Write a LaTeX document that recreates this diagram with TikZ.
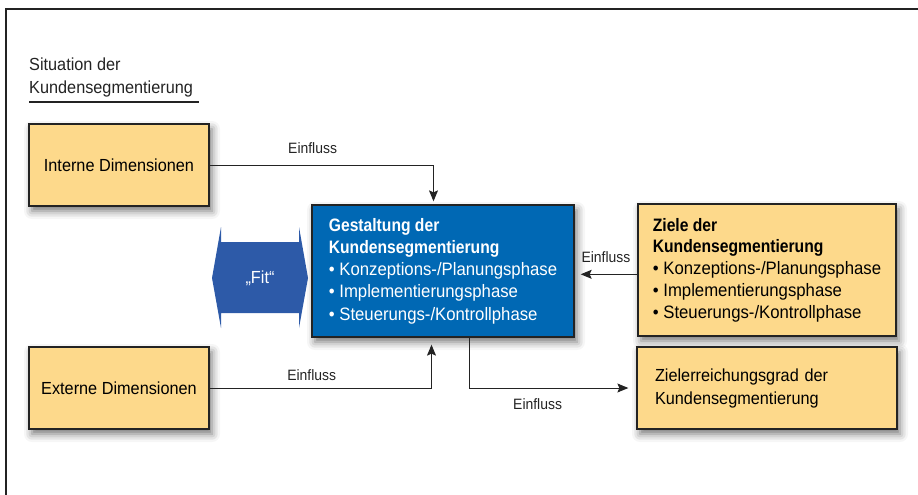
\documentclass[tikz,border=0pt]{standalone}
\usepackage{fontspec}
\setmainfont{Liberation Sans}[FakeStretch=0.93,BoldFeatures={FakeStretch=0.87}]
\usetikzlibrary{arrows.meta,shadows.blur}

\definecolor{boxyellow}{RGB}{253,217,139}
\definecolor{boxblue}{RGB}{0,104,180}
\definecolor{fitblue}{RGB}{45,90,168}
\definecolor{linegray}{RGB}{35,35,35}

\tikzset{
  boxshadow/.style={blur shadow={shadow xshift=3pt, shadow yshift=-5pt, shadow blur radius=8pt, shadow opacity=55}},
  dimbox/.style={draw=linegray, line width=1.3pt, fill=boxyellow, boxshadow,
    minimum width=180pt, minimum height=82pt, inner sep=0pt,
    font=\fontsize{17.5}{23}\selectfont},
  bluebox/.style={dimbox, fill=boxblue, text=white, align=left,
    minimum width=262pt, minimum height=132pt, font=\fontsize{18}{22.3}\selectfont},
  goalbox/.style={dimbox, align=left, minimum width=258pt, minimum height=132pt,
    font=\fontsize{18}{21.7}\selectfont},
  flow/.style={draw=linegray, line width=1pt, -{Stealth[length=11pt, width=9pt, inset=2pt]}},
  lbl/.style={inner sep=0pt, text=linegray, font=\fontsize{15}{18}\selectfont}
}

\begin{document}
\begin{tikzpicture}[x=1pt, y=-1pt]
    \useasboundingbox (0,0) rectangle (918,495);

    % Frame
    \draw[linegray, line width=1.5pt] (6,495) -- (6,9) -- (918,9);

    % Title
    \node[anchor=south west, inner sep=0pt, align=left, text=linegray,
          font=\fontsize{17.5}{23}\selectfont] (title) at (29,97)
          {Situation der\\Kundensegmentierung};
    \draw[linegray, line width=1.2pt] ([yshift=-5pt]title.south west) -- ([xshift=6pt,yshift=-5pt]title.south east);

    % Dimensions
    \node[dimbox] (intern) at (119,165) {Interne Dimensionen};
    \node[dimbox] (extern) at (119,388) {Externe Dimensionen};

    % Fit arrow
    \fill[fitblue] (212,278) -- (221,227) -- (221,242) -- (299,242) -- (299,227) -- (308,278)
        -- (299,328) -- (299,313) -- (221,313) -- (221,328) -- cycle;
    \node[text=white, font=\fontsize{17.5}{20}\selectfont] (fit) at (260,278) {„Fit“};

    % Gestaltung
    \node[bluebox] (gestalt) at (443,271)
      {\textbf{Gestaltung der}\\\textbf{Kundensegmentierung}\\• Konzeptions-/Planungsphase\\• Implementierungsphase\\• Steuerungs-/Kontrollphase};

    % Ziele
    \node[goalbox] (ziele) at (767,270)
      {\textbf{Ziele der}\\\textbf{Kundensegmentierung}\\• Konzeptions-/Planungsphase\\• Implementierungsphase\\• Steuerungs-/Kontrollphase};
    \node[dimbox, minimum width=260pt, text width=224pt, align=left] (zielgrad) at (767,388)
      {Zielerreichungsgrad der\\Kundensegmentierung};

    % Einfluss
    \draw[flow, shorten >=3pt] (intern.east) -| node[lbl, above=10.6pt, pos=0.23] {Einfluss} ([xshift=-9.5pt]gestalt.north);
    \draw[flow, shorten >=7pt] (extern.east) -| node[lbl, above=6.7pt, pos=0.23] {Einfluss} ([xshift=-11.5pt]gestalt.south);
    \draw[flow, shorten >=6pt] ([yshift=-4.3pt]ziele.west) -- node[lbl, above=11.6pt] {Einfluss} ([yshift=-4.3pt]ziele.west -| gestalt.east);
    \draw[flow, shorten >=8pt] ([xshift=26pt]gestalt.south) |- node[lbl, below=10pt, pos=0.705] {Einfluss} (zielgrad.west);
\end{tikzpicture}
\end{document}
